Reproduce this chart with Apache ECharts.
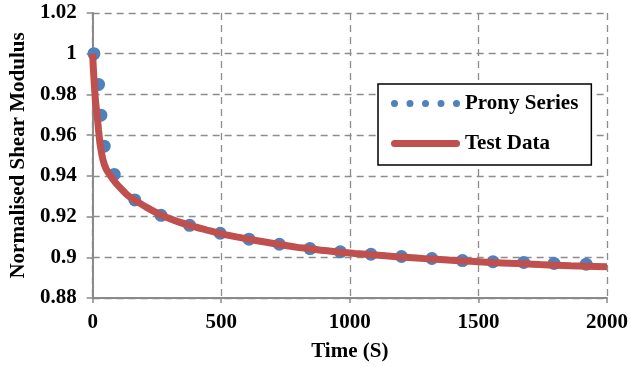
<!DOCTYPE html>
<html>
<head>
<meta charset="utf-8">
<script src="https://cdn.jsdelivr.net/npm/echarts@6/dist/echarts.min.js"></script>
<style>
html,body{margin:0;padding:0;background:#fff;}
#c{width:631px;height:367px;}
</style>
</head>
<body>
<div id="c"></div>
<script>
// Prony series points [time, value]
var pronyTime  = [5, 23, 32, 45, 84, 164, 266, 377, 496, 608, 726, 845, 963, 1082, 1201, 1319, 1438, 1557, 1676, 1794, 1919];
var pronyValue = [1.0, 0.9849, 0.9698, 0.9546, 0.9407, 0.9282, 0.9206, 0.9157, 0.9118, 0.9089, 0.9064, 0.9043, 0.9027, 0.9015, 0.9004, 0.8994, 0.8984, 0.8978, 0.8975, 0.8970, 0.8966];

// Test data curve [time, value]
var testTime  = [0, 3, 6.5, 11, 17, 23, 29.5, 40, 52, 68, 90, 112, 130, 150, 175, 210, 265, 320, 377, 440, 500, 560, 610, 670, 726, 790, 845, 900, 963, 1020, 1082, 1140, 1200, 1260, 1320, 1380, 1440, 1500, 1560, 1620, 1680, 1740, 1800, 1860, 1920, 2000];
var testValue = [1.0, 0.992, 0.985, 0.977, 0.970, 0.9625, 0.955, 0.948, 0.9435, 0.9403, 0.9365, 0.9335, 0.9312, 0.9292, 0.9272, 0.9245, 0.9208, 0.918, 0.9157, 0.9135, 0.9115, 0.9100, 0.9088, 0.9075, 0.9063, 0.9050, 0.9042, 0.9033, 0.9025, 0.9019, 0.9013, 0.9007, 0.9001, 0.8996, 0.8991, 0.8987, 0.8982, 0.8978, 0.8974, 0.8971, 0.8968, 0.8964, 0.8961, 0.8958, 0.8956, 0.8953];

var seriesNames = ['Prony Series', 'Test Data'];
var xTicks = {min: 0, max: 2000, interval: 500};
var yTicks = {min: 0.88, max: 1.02, interval: 0.02};

function zip(a, b) { return a.map(function (v, i) { return [v, b[i]]; }); }

var FONT = '"Liberation Serif", "Times New Roman", serif';
var FS = 21;
var gridLine = {show: true, lineStyle: {color: '#8c8c8c', width: 1.3, type: [7, 5]}};
var axisLine = {show: true, onZero: false, lineStyle: {color: '#8a8a8a', width: 2}};

var dotsPath = 'path://M0,3.5a3.5,3.5 0 1,0 7,0a3.5,3.5 0 1,0 -7,0Z' +
  'M15.5,3.5a3.5,3.5 0 1,0 7,0a3.5,3.5 0 1,0 -7,0Z' +
  'M31,3.5a3.5,3.5 0 1,0 7,0a3.5,3.5 0 1,0 -7,0Z' +
  'M46.5,3.5a3.5,3.5 0 1,0 7,0a3.5,3.5 0 1,0 -7,0Z' +
  'M62,3.5a3.5,3.5 0 1,0 7,0a3.5,3.5 0 1,0 -7,0Z';
var barPath = 'path://M3.5,0L65.5,0A3.5,3.5 0 0 1 65.5,7L3.5,7A3.5,3.5 0 0 1 3.5,0Z';

var chart = echarts.init(document.getElementById('c'), null, {renderer: 'canvas'});
chart.setOption({
  animation: false,
  backgroundColor: '#fff',
  grid: {left: 89, right: 21, top: 13, bottom: 68, containLabel: false},
  legend: {
    orient: 'vertical',
    left: 378, top: 84,
    padding: [9, 13, 11, 13],
    itemGap: 19,
    itemWidth: 69, itemHeight: 7,
    borderColor: '#000', borderWidth: 1.5,
    backgroundColor: '#fff',
    textStyle: {fontFamily: FONT, fontWeight: 'bold', fontSize: FS, color: '#000'},
    data: [
      {name: seriesNames[0], icon: dotsPath, itemStyle: {color: '#4F81BD', borderWidth: 0}},
      {name: seriesNames[1], icon: barPath, itemStyle: {color: '#C0504D', borderWidth: 0}}
    ]
  },
  xAxis: {
    type: 'value',
    min: xTicks.min, max: xTicks.max, interval: xTicks.interval,
    name: 'Time (S)', nameLocation: 'middle', nameGap: 43,
    nameTextStyle: {fontFamily: FONT, fontWeight: 'bold', fontSize: FS, color: '#000'},
    axisLine: axisLine,
    axisTick: {show: true, length: 5, lineStyle: {color: '#8a8a8a', width: 1.5}},
    axisLabel: {
      margin: 14, fontFamily: FONT, fontWeight: 'bold', fontSize: FS, color: '#000',
      formatter: function (v) { return String(v); }
    },
    splitLine: gridLine
  },
  yAxis: {
    type: 'value',
    min: yTicks.min, max: yTicks.max, interval: yTicks.interval,
    name: 'Normalised Shear Modulus', nameLocation: 'middle', nameGap: 61, nameRotate: 90,
    nameTextStyle: {fontFamily: FONT, fontWeight: 'bold', fontSize: FS, color: '#000'},
    axisLine: axisLine,
    axisTick: {show: true, length: 6, lineStyle: {color: '#8a8a8a', width: 1.5}},
    axisLabel: {
      margin: 16, fontFamily: FONT, fontWeight: 'bold', fontSize: FS, color: '#000',
      formatter: function (v) { return String(parseFloat(v.toFixed(2))); }
    },
    splitLine: gridLine
  },
  series: [
    {
      name: seriesNames[0], type: 'scatter',
      data: zip(pronyTime, pronyValue),
      symbolSize: 13,
      clip: false,
      itemStyle: {color: '#4F81BD', opacity: 1},
      z: 2
    },
    {
      name: seriesNames[1], type: 'line',
      data: zip(testTime, testValue),
      showSymbol: false,
      smooth: 0.3,
      lineStyle: {color: '#C0504D', width: 7},
      itemStyle: {color: '#C0504D'},
      z: 3
    }
  ]
});
</script>
</body>
</html>
